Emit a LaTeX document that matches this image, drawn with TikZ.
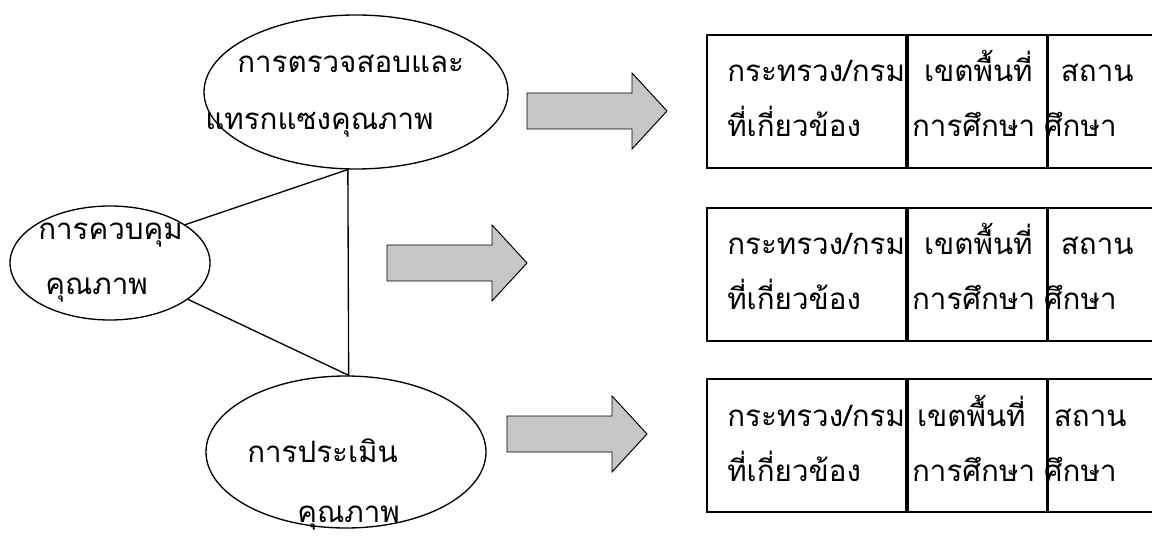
\documentclass[tikz,border=0pt]{standalone}
\usepackage{fontspec}
\newfontfamily\thaifont[Script=Thai]{Loma}
\usetikzlibrary{shapes,shapes.geometric,calc}
\tikzset{
  txt/.style = {anchor=base west, inner sep=0pt, font=\thaifont\fontsize{21}{25}\selectfont},
  oval_n/.style = {ellipse, draw=black, line width=0.95pt, inner sep=0pt},
  cell_n/.style = {rectangle, draw=black, line width=1.3pt, anchor=north west, inner sep=0pt, minimum height=133*0.025cm},
  fat_arr/.style = {draw=black, line width=0.7pt, fill=gray!45, line join=miter}
}

\begin{document}
\begin{tikzpicture}[x=0.025cm, y=-0.025cm]
\useasboundingbox (0,0) rectangle (1152,544);
\clip (0,0) rectangle (1152,544);
% the three ovals
\node [oval_n, minimum width=304*0.025cm, minimum height=154*0.025cm] (check) at (356,92) {};
\node [oval_n, minimum width=200*0.025cm, minimum height=114*0.025cm] (ctrl) at (110,263) {};
\node [oval_n, minimum width=280*0.025cm, minimum height=152*0.025cm] (eval) at (346,452) {};
\node [txt] (checkA) at (237,73) {การตรวจสอบและ};
\node [txt] (checkB) at (205,130) {แทรกแซงคุณภาพ};
\node [txt] (ctrlA) at (38,240) {การควบคุม};
\node [txt] (ctrlB) at (45,295) {คุณภาพ};
\node [txt] (evalA) at (247,462) {การประเมิน};
\node [txt] (evalB) at (297,522) {คุณภาพ};
% links
\draw [line width=0.95pt] (ctrl.27) -- (check.-96) -- (eval.88) -- (ctrl.-25);
% block arrows
\foreach \ax/\ay in {527/111, 387/263, 507/434}
  \draw [fat_arr] (\ax,\ay-18) -- ++(105,0) -- ++(0,-20) -- (\ax+140,\ay)
    -- (\ax+105,\ay+38) -- ++(0,-20) -- (\ax,\ay+18) -- cycle;
% the three rows of cells
\foreach \r/\y/\a/\b in {1/34/17/13, 2/207/17/13, 3/378/10/6} {
  \node [cell_n, minimum width=199*0.025cm] (org\r) at (706,\y) {};
  \node [cell_n, minimum width=139*0.025cm] (area\r) at (org\r.north east) {};
  \node [cell_n, minimum width=160*0.025cm] (sch\r) at (area\r.north east) {};
  \node [txt] (orgA\r) at ($(org\r.north west)+(21,48)$) {กระทรวง/กรม};
  \node [txt] (orgB\r) at ($(org\r.north west)+(21,103)$) {ที่เกี่ยวข้อง};
  \node [txt] (areaA\r) at ($(area\r.north west)+(\a,48)$) {เขตพื้นที่};
  \node [txt] (areaB\r) at ($(area\r.north west)+(5,103)$) {การศึกษา};
  \node [txt] (schA\r) at ($(sch\r.north west)+(\b,48)$) {สถาน};
  \node [txt] (schB\r) at ($(sch\r.north west)+(-4,103)$) {ศึกษา};
}
\end{tikzpicture}
\end{document}
